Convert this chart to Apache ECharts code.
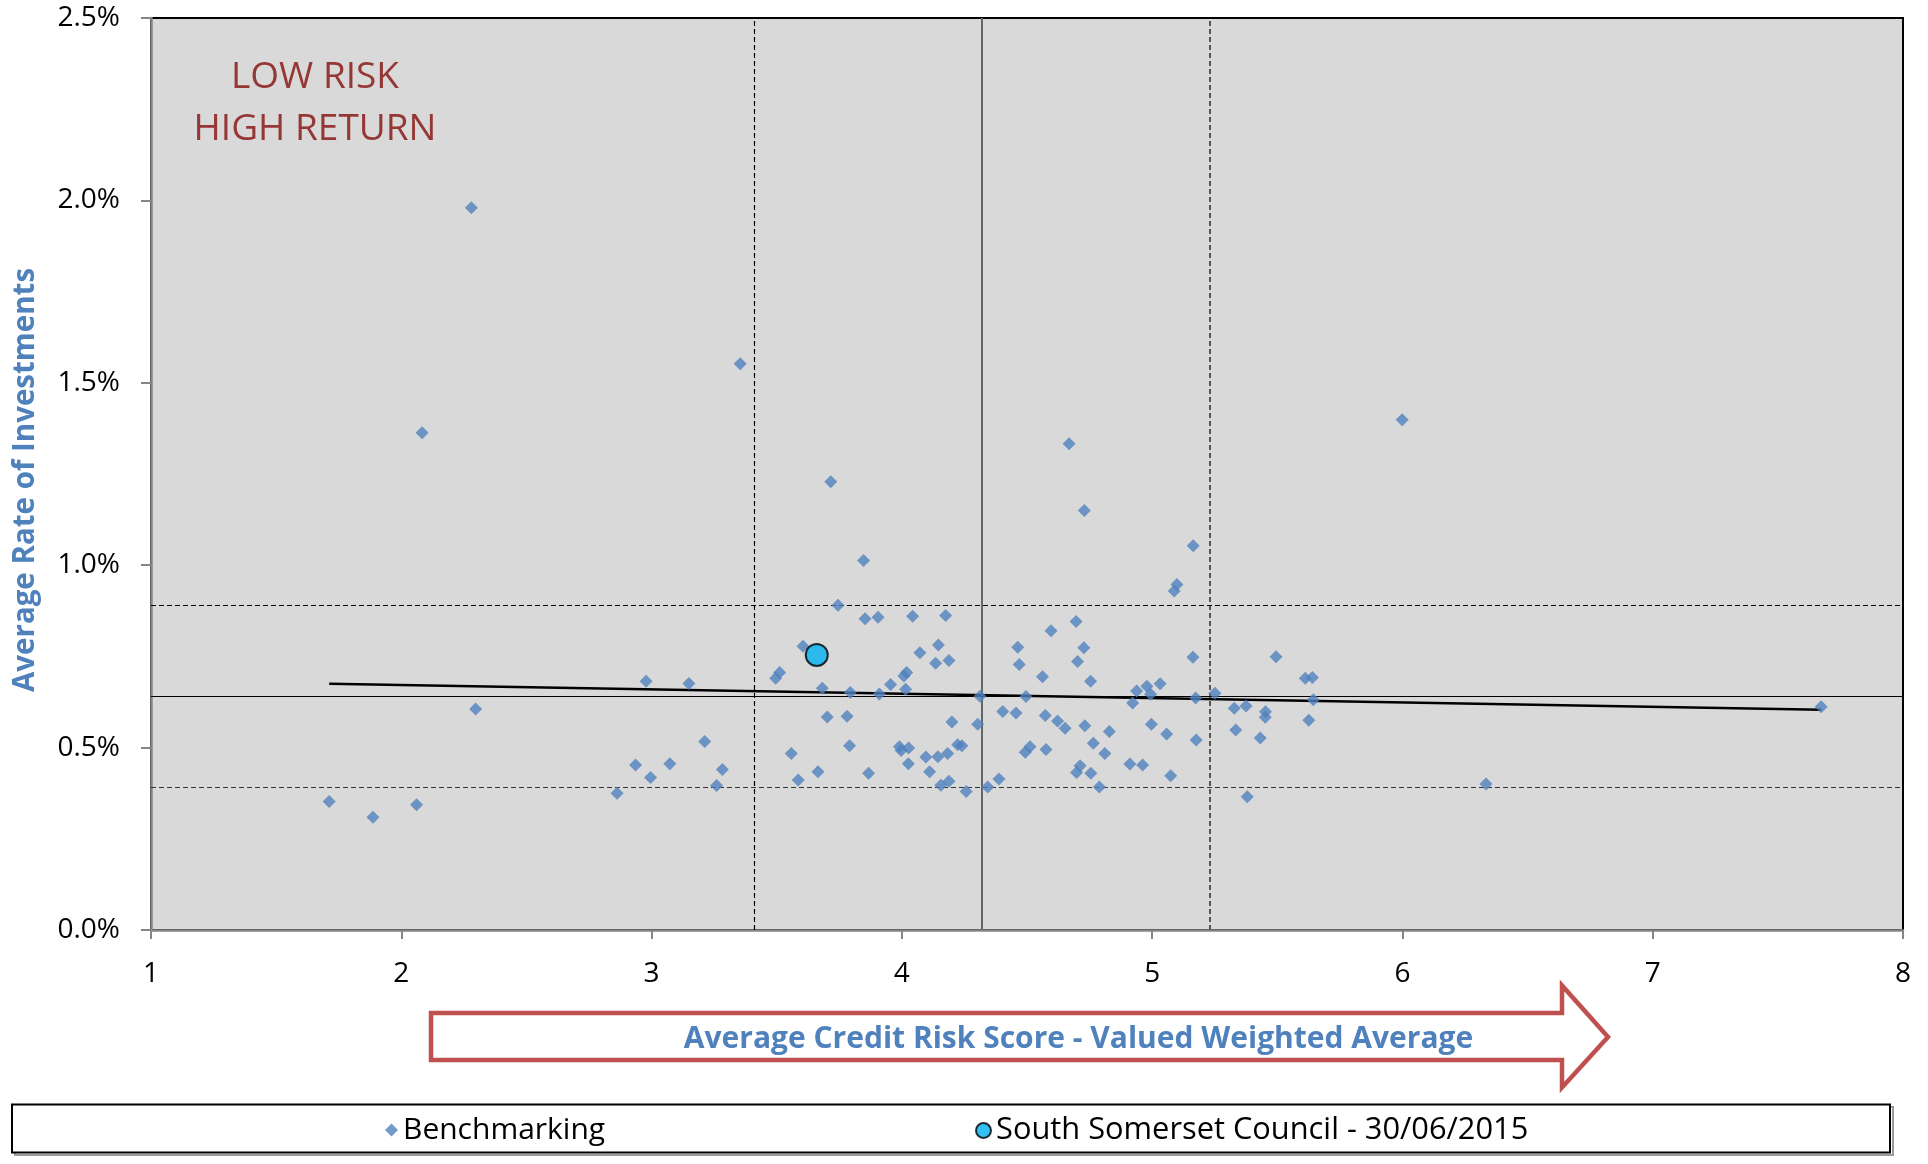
<!DOCTYPE html>
<html>
<head>
<meta charset="utf-8">
<script src="https://cdn.jsdelivr.net/npm/echarts@6/dist/echarts.min.js"></script>
<style>
html,body{margin:0;padding:0;background:#fff;}
#chart{width:1928px;height:1164px;}
</style>
</head>
<body>
<div id="chart"></div>
<script>
// Benchmarking points: average credit risk score (x) and average rate of investments in % (y)
const riskScore = [
  2.280, 2.083, 3.354, 2.297, 1.712, 1.887, 2.061, 2.862, 2.936, 2.978,
  2.996, 3.073, 3.149, 3.212, 3.260, 3.283, 3.496, 3.512, 3.558, 3.586,
  3.605, 3.665, 3.682, 3.702, 3.716, 3.745, 3.781, 3.791, 3.794, 3.847,
  3.853, 3.867, 3.905, 3.910, 3.955, 3.990, 3.997, 4.008, 4.015, 4.019,
  4.026, 4.027, 4.043, 4.072, 4.096, 4.111, 4.135, 4.144, 4.146, 4.156,
  4.175, 4.183, 4.188, 4.188, 4.200, 4.223, 4.240, 4.257, 4.303, 4.312,
  4.343, 4.388, 4.403, 4.456, 4.463, 4.469, 4.493, 4.496, 4.512, 4.562,
  4.573, 4.576, 4.596, 4.622, 4.652, 4.668, 4.696, 4.698, 4.702, 4.712,
  4.727, 4.729, 4.731, 4.754, 4.755, 4.765, 4.789, 4.811, 4.829, 4.911,
  4.922, 4.938, 4.962, 4.979, 4.994, 4.997, 5.032, 5.058, 5.074, 5.088,
  5.099, 5.163, 5.164, 5.174, 5.176, 5.251, 5.328, 5.334, 5.375, 5.380,
  5.432, 5.452, 5.453, 5.495, 5.612, 5.626, 5.640, 5.644, 5.999, 6.334,
  7.673
];
const avgReturn = [
  1.980, 1.363, 1.552, 0.606, 0.352, 0.309, 0.343, 0.375, 0.452, 0.682,
  0.418, 0.456, 0.676, 0.517, 0.396, 0.440, 0.690, 0.706, 0.484, 0.411,
  0.778, 0.434, 0.663, 0.584, 1.229, 0.890, 0.586, 0.505, 0.651, 1.013,
  0.853, 0.430, 0.857, 0.647, 0.673, 0.502, 0.492, 0.696, 0.660, 0.706,
  0.456, 0.499, 0.860, 0.760, 0.474, 0.434, 0.731, 0.475, 0.781, 0.397,
  0.862, 0.484, 0.739, 0.408, 0.570, 0.508, 0.505, 0.380, 0.564, 0.641,
  0.392, 0.414, 0.599, 0.595, 0.775, 0.728, 0.487, 0.640, 0.502, 0.694,
  0.588, 0.495, 0.820, 0.573, 0.553, 1.333, 0.846, 0.432, 0.736, 0.450,
  0.774, 1.150, 0.560, 0.682, 0.430, 0.512, 0.392, 0.484, 0.544, 0.455,
  0.622, 0.655, 0.452, 0.668, 0.646, 0.564, 0.675, 0.537, 0.423, 0.929,
  0.947, 0.748, 1.053, 0.636, 0.521, 0.649, 0.608, 0.548, 0.614, 0.365,
  0.526, 0.583, 0.598, 0.749, 0.690, 0.575, 0.692, 0.631, 1.399, 0.400,
  0.612
];
// Council point
const councilScore = [3.660];
const councilReturn = [0.754];
// Linear trend line end points
const trendScore = [1.712, 7.673];
const trendReturn = [0.675, 0.604];
// Reference lines (mean and +/- one deviation)
const refScore = [3.407, 4.316, 5.234];
const refReturn = [0.388, 0.641, 0.894];
// Axis settings
const xMin = 1, xMax = 8, xStep = 1;
const yMin = 0, yMax = 2.5, yStep = 0.5;

const seriesNames = ['Benchmarking', 'South Somerset Council - 30/06/2015'];
const quadrantText = ['LOW RISK', 'HIGH RETURN'];
const xTitle = 'Average Credit Risk Score - Valued Weighted Average';
const yTitle = 'Average Rate of Investments';

const FONT = '"Open Sans", "DejaVu Sans", sans-serif';
const benchData = riskScore.map((x, i) => [x, avgReturn[i]]);
const councilData = councilScore.map((x, i) => [x, councilReturn[i]]);
const trendData = trendScore.map((x, i) => [x, trendReturn[i]]);

const dashStyle = {color: '#000', width: 1.2, type: [5, 3]};
const chart = echarts.init(document.getElementById('chart'), null, {renderer: 'canvas'});
chart.setOption({
  animation: false,
  backgroundColor: '#fff',
  grid: {
    left: 151, right: 25, top: 18, bottom: 234,
    show: true, backgroundColor: '#d9d9d9', borderColor: '#000', borderWidth: 2
  },
  xAxis: {
    type: 'value', min: xMin, max: xMax, interval: xStep,
    name: xTitle, nameLocation: 'middle', nameGap: 94,
    nameTextStyle: {fontFamily: FONT, fontSize: 30, fontWeight: 'bold', color: '#4f81bd', padding: [0, 0, 0, 103]},
    axisLine: {show: true, lineStyle: {color: '#868686', width: 2.5}},
    axisTick: {show: true, length: 9, lineStyle: {color: '#868686', width: 2}},
    axisLabel: {fontFamily: FONT, fontSize: 28, color: '#000', margin: 30},
    splitLine: {show: false}
  },
  yAxis: {
    type: 'value', min: yMin, max: yMax, interval: yStep,
    name: yTitle, nameLocation: 'middle', nameGap: 110, nameRotate: 90,
    nameTextStyle: {fontFamily: FONT, fontSize: 29.5, fontWeight: 'bold', color: '#4f81bd', padding: [0, 12, 0, 0]},
    axisLine: {show: true, lineStyle: {color: '#868686', width: 2.5}},
    axisTick: {show: true, length: 10, lineStyle: {color: '#868686', width: 2}},
    axisLabel: {fontFamily: FONT, fontSize: 28, color: '#000', margin: 31,
      formatter: v => v.toFixed(1) + '%'},
    splitLine: {show: false}
  },
  legend: [
    {data: [{name: seriesNames[0], icon: 'diamond'}], left: 385, top: 1115, padding: 0,
      itemWidth: 13, itemHeight: 13,
      textStyle: {fontFamily: FONT, fontSize: 30, color: '#000', lineHeight: 30}},
    {data: [{name: seriesNames[1], icon: 'circle'}], left: 975, top: 1115, padding: 0,
      itemWidth: 15, itemHeight: 15,
      textStyle: {fontFamily: FONT, fontSize: 30.8, color: '#000', lineHeight: 30}}
  ],
  graphic: [
    {type: 'rect', shape: {x: 15, y: 1107, width: 1878, height: 48}, style: {fill: 'none', stroke: '#9a9a9a', lineWidth: 2}, z: 1},
    {type: 'rect', shape: {x: 12, y: 1104.5, width: 1878, height: 48}, style: {fill: '#fff', stroke: '#000', lineWidth: 2}, z: 2},
    {type: 'polygon', shape: {points: [[431, 1013], [1562, 1013], [1562, 985.5], [1608, 1037], [1562, 1087.5], [1562, 1060], [431, 1060]]},
      style: {fill: '#fff', stroke: '#c0504d', lineWidth: 4.5}, z: -1},
    {type: 'text', x: 315, y: 77, style: {text: quadrantText[0], font: '37px ' + FONT, fill: '#953735', align: 'center', verticalAlign: 'middle'}, z: 10},
    {type: 'text', x: 315, y: 129, style: {text: quadrantText[1], font: '37px ' + FONT, fill: '#953735', align: 'center', verticalAlign: 'middle'}, z: 10}
  ],
  series: [
    {
      name: 'refs', type: 'line', data: [], silent: true, z: 2,
      markLine: {
        silent: true, symbol: ['none', 'none'], label: {show: false},
        data: [
          {xAxis: refScore[0], lineStyle: dashStyle},
          {xAxis: refScore[1], lineStyle: {color: '#666', width: 2, type: 'solid'}},
          {xAxis: refScore[2], lineStyle: {color: '#555', width: 2, type: [5, 3]}},
          {yAxis: refReturn[0], lineStyle: {color: '#333', width: 1.2, type: [5, 3]}},
          {yAxis: refReturn[1], lineStyle: {color: '#000', width: 1.2, type: 'solid'}},
          {yAxis: refReturn[2], lineStyle: dashStyle}
        ]
      }
    },
    {
      name: 'trend', type: 'line', data: trendData, symbol: 'none', silent: true, z: 3,
      lineStyle: {color: '#000', width: 2.5}
    },
    {
      name: seriesNames[0], type: 'scatter', data: benchData, symbol: 'diamond', symbolSize: 13, z: 5,
      itemStyle: {color: '#4f81bd'}
    },
    {
      name: seriesNames[1], type: 'scatter', data: councilData, symbol: 'circle', symbolSize: 22, z: 6,
      itemStyle: {color: '#00b0f0', borderColor: '#000', borderWidth: 2}
    }
  ]
});
</script>
</body>
</html>
